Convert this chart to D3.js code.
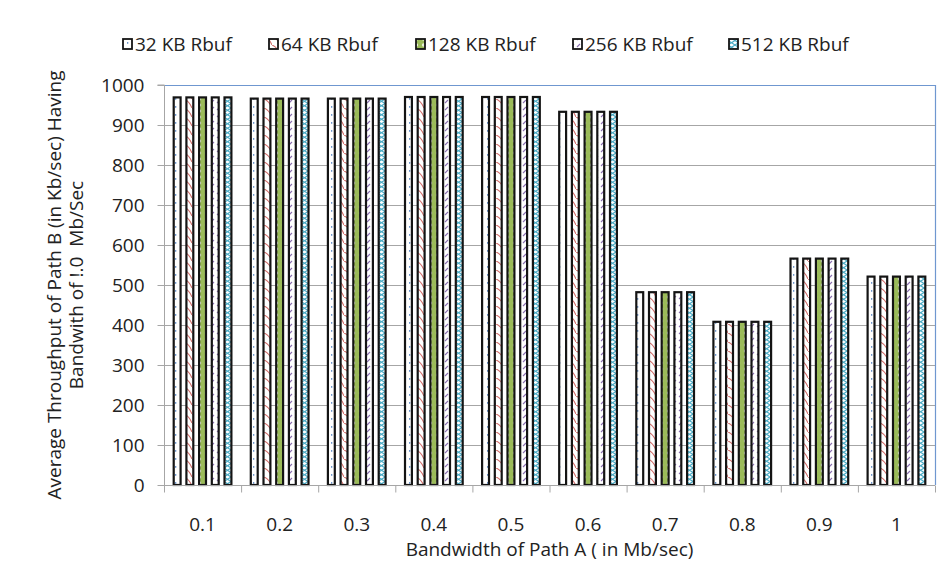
<!DOCTYPE html>
<html><head><meta charset="utf-8">
<script src="https://cdn.jsdelivr.net/npm/d3@7"></script>
<style>body{margin:0;background:#fff;}svg{display:block;font-family:"Open Sans",sans-serif;}</style>
</head><body>
<svg id="c" width="949" height="583"></svg>
<script>
const categories = ["0.1","0.2","0.3","0.4","0.5","0.6","0.7","0.8","0.9","1"];
const seriesNames = ["32 KB Rbuf","64 KB Rbuf","128 KB Rbuf","256 KB Rbuf","512 KB Rbuf"];
const rbuf32  = [969,966,966,970,970,933,482,408,566,521];
const rbuf64  = [969,966,966,970,970,933,482,408,566,521];
const rbuf128 = [969,966,966,970,970,933,482,408,566,521];
const rbuf256 = [969,966,966,970,970,933,482,408,566,521];
const rbuf512 = [969,966,966,970,970,933,482,408,566,521];
const yTicks = [0,100,200,300,400,500,600,700,800,900,1000];
const series = [rbuf32,rbuf64,rbuf128,rbuf256,rbuf512];

const FS = 19;
const svg = d3.select("#c");
const m = {l:164, r:935, t:85, b:485};
const x0 = d3.scaleBand().domain(categories).range([m.l, m.r]).paddingInner(0).paddingOuter(0);
const x1 = d3.scaleBand().domain(d3.range(5)).range([0, 63.5]).paddingInner(0.3).paddingOuter(0.15);
const y = d3.scaleLinear().domain([0,1000]).range([m.b, m.t]);

const defs = svg.append("defs");
let p = defs.append("pattern").attr("id","p0").attr("patternUnits","userSpaceOnUse").attr("width",6).attr("height",8);
p.append("rect").attr("width",6).attr("height",8).attr("fill","#fff");
p.append("rect").attr("x",1).attr("y",2).attr("width",1.3).attr("height",1.8).attr("fill","#6f97cc");
p = defs.append("pattern").attr("id","p1").attr("patternUnits","userSpaceOnUse").attr("width",8).attr("height",9);
p.append("rect").attr("width",8).attr("height",9).attr("fill","#fff");
p.append("path").attr("d","M0,0 Q5,2 8,9").attr("fill","none").attr("stroke","#d06a67").attr("stroke-width",1.1);
p = defs.append("pattern").attr("id","p2").attr("patternUnits","userSpaceOnUse").attr("width",7).attr("height",6);
p.append("rect").attr("width",7).attr("height",6).attr("fill","#9bbb59");
p.append("circle").attr("cx",3.5).attr("cy",3).attr("r",1.7).attr("fill","#e8f0d8");
p = defs.append("pattern").attr("id","p3").attr("patternUnits","userSpaceOnUse").attr("width",6).attr("height",7);
p.append("rect").attr("width",6).attr("height",7).attr("fill","#fff");
p.append("line").attr("x1",1).attr("y1",5).attr("x2",4).attr("y2",2).attr("stroke","#8a6fb0").attr("stroke-width",1.1);
p = defs.append("pattern").attr("id","p4").attr("patternUnits","userSpaceOnUse").attr("width",7).attr("height",9);
p.append("rect").attr("width",7).attr("height",9).attr("fill","#fff");
p.append("path").attr("d","M0,0 L7,4.5 L0,9 M7,0 L0,4.5 L7,9").attr("fill","none").attr("stroke","#4bacc6").attr("stroke-width",1.1);

// gridlines
svg.append("g").selectAll("line").data(yTicks.filter(d=>d>0 && d<1000)).join("line")
  .attr("x1",m.l).attr("x2",m.r).attr("y1",d=>y(d)+0.5).attr("y2",d=>y(d)+0.5)
  .attr("stroke","#a6a6a6").attr("stroke-width",1);
svg.append("path").attr("d",`M${m.l},${y(1000)+0.5}H${m.r+0.5}V${m.b}`).attr("fill","none").attr("stroke","#6f97d0").attr("stroke-width",1.2);

// bars
const g = svg.append("g");
categories.forEach((c,i)=>{
  series.forEach((s,k)=>{
    const bx = x0(c) + (x0.bandwidth()-63.5)/2 + x1(k);
    g.append("rect").attr("x",bx+1).attr("y",y(s[i]))
      .attr("width",x1.bandwidth()-2).attr("height",y(0)-y(s[i]))
      .attr("fill",`url(#p${k})`).attr("stroke","#141414").attr("stroke-width",2.2);
  });
});

// axes
const yAxis = d3.axisLeft(y).tickValues(yTicks).tickFormat(d3.format("d")).tickSize(7).tickPadding(13);
const ya = svg.append("g").attr("transform",`translate(${m.l+0.5},0)`).call(yAxis);
ya.select(".domain").attr("stroke","#a6a6a6").attr("d",`M-7,${y(1000)}H0V${y(0)}`);
ya.selectAll(".tick line").attr("stroke","#a6a6a6");
ya.selectAll("text").attr("font-size",FS).attr("fill","#222").attr("font-family","Open Sans");

const xa = svg.append("g").attr("transform",`translate(0,${m.b+0.5})`);
xa.append("line").attr("x1",m.l).attr("x2",m.r).attr("stroke","#a6a6a6");
xa.selectAll("line.t").data(d3.range(categories.length+1)).join("line").attr("class","t")
  .attr("x1",i=>m.l+i*x0.bandwidth()+0.5).attr("x2",i=>m.l+i*x0.bandwidth()+0.5)
  .attr("y1",0).attr("y2",7).attr("stroke","#a6a6a6");
xa.selectAll("text").data(categories).join("text")
  .attr("x",d=>x0(d)+x0.bandwidth()/2).attr("y",45).attr("text-anchor","middle")
  .attr("font-size",FS).attr("fill","#222").text(d=>d);

// axis titles
svg.append("text").attr("x",(m.l+m.r)/2).attr("y",556).attr("text-anchor","middle")
  .attr("font-size",FS).attr("fill","#222").text("Bandwidth of Path A ( in Mb/sec)");
const yt = svg.append("text").attr("transform",`translate(0,285) rotate(-90)`)
  .attr("text-anchor","middle").attr("font-size",FS).attr("fill","#222");
yt.append("tspan").attr("x",0).attr("y",61).text("Average Throughput of Path B (in Kb/sec) Having");
yt.append("tspan").attr("x",0).attr("y",83).text("Bandwith of !.0  Mb/Sec").attr("xml:space","preserve").style("white-space","pre");

// legend
const legX = [123,269,416,573,729];
const lg = svg.append("g");
seriesNames.forEach((n,k)=>{
  lg.append("rect").attr("x",legX[k]).attr("y",39).attr("width",9).attr("height",10)
    .attr("fill",`url(#p${k})`).attr("stroke","#141414").attr("stroke-width",1.8);
  lg.append("text").attr("x",legX[k]+12).attr("y",51).attr("font-size",FS).attr("fill","#222").text(n);
});
</script>
</body></html>
